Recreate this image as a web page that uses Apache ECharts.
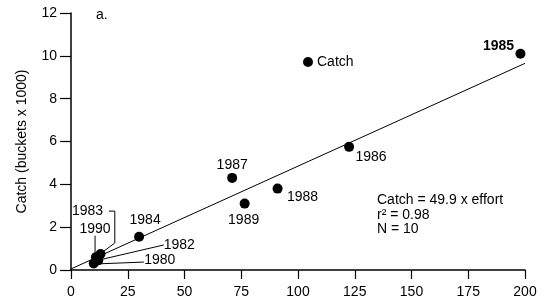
<!DOCTYPE html>
<html>
<head>
<meta charset="utf-8">
<script src="https://cdn.jsdelivr.net/npm/echarts@6/dist/echarts.min.js"></script>
<style>
html, body { margin: 0; padding: 0; background: #fff; }
#chart { width: 549px; height: 307px; }
</style>
</head>
<body>
<div id="chart"></div>
<script>
// data
const years  = [1980, 1982, 1983, 1984, 1985, 1986, 1987, 1988, 1989, 1990];
const effort = [10, 12, 13, 30, 198, 122.5, 71, 91, 76.5, 11];
const catchK = [0.3, 0.45, 0.75, 1.55, 10.1, 5.75, 4.3, 3.8, 3.1, 0.6];
const fitLine = [[0, 0.05], [200, 9.65]];
const xTicks = [0, 25, 50, 75, 100, 125, 150, 175, 200];
const yTicks = [0, 2, 4, 6, 8, 10, 12];

// leader lines for the crowded labels near the origin
const leaders = [
    [[16.7, 2.75], [19.3, 2.75], [19.3, 1.26], [13.2, 0.78]],
    [[10.6, 1.6], [10.6, 0.68]],
    [[40.9, 1.17], [12.5, 0.47]],
    [[32.1, 0.37], [10.3, 0.28]]
];

// label offsets (px) relative to each dot
const labelOffset = {
    1980: [66, -3], 1982: [81, -15], 1983: [-13, -43], 1984: [6, -17],
    1985: [-22, -8], 1986: [22, 10], 1987: [0, -13], 1988: [25, 9],
    1989: [-1, 17], 1990: [-1, -28]
};

let myChart = echarts.init(document.getElementById('chart'));

let points = [];
for (let i = 0; i < years.length; i++) {
    points.push({
        value: [effort[i], catchK[i]],
        name: String(years[i]),
        label: {
            offset: labelOffset[years[i]],
            fontWeight: years[i] === 1985 ? 'bold' : 'normal'
        }
    });
}

const font = 'Liberation Sans, Arial, Helvetica, sans-serif';

let series = [{
    type: 'line',
    data: fitLine,
    symbol: 'none',
    silent: true,
    lineStyle: { color: '#000', width: 1 },
    z: 2
}];
leaders.forEach(function (d) {
    series.push({
        type: 'line',
        data: d,
        symbol: 'none',
        silent: true,
        lineStyle: { color: '#000', width: 1 },
        z: 2
    });
});
series.push({
    name: 'Catch',
    type: 'scatter',
    data: points,
    symbol: 'circle',
    symbolSize: 10,
    itemStyle: { color: '#000', opacity: 1 },
    label: {
        show: true,
        position: 'inside',
        formatter: function (p) { return p.name; },
        color: '#000',
        fontSize: 14,
        fontFamily: font,
        align: 'center',
        verticalAlign: 'middle'
    },
    z: 3
});

let option = {
    animation: false,
    backgroundColor: '#fff',
    grid: { left: 71, right: 24, top: 13, bottom: 37, containLabel: false },
    legend: {
        data: ['Catch'],
        left: 298,
        top: 50,
        icon: 'circle',
        itemWidth: 10,
        itemHeight: 10,
        itemGap: 4,
        textStyle: { color: '#000', fontSize: 14, fontFamily: font, padding: [0, 0, 0, -1] }
    },
    graphic: [
        { type: 'text', left: 96, top: 8, style: { text: 'a.', fontSize: 14, fontFamily: font, fill: '#000' } },
        { type: 'text', left: 377, top: 193, style: {
            text: 'Catch = 49.9 x effort\nr\u00b2 = 0.98\nN = 10',
            fontSize: 14, lineHeight: 14.5, fontFamily: font, fill: '#000' } }
    ],
    xAxis: {
        type: 'value',
        min: 0,
        max: 200,
        interval: 25,
        axisLine: { show: true, onZero: false, lineStyle: { color: '#000', width: 1.5 } },
        axisTick: { show: true, length: 9, lineStyle: { color: '#000', width: 1.2 } },
        axisLabel: { color: '#000', fontSize: 14, fontFamily: font, margin: 15,
            formatter: function (v) { return xTicks.indexOf(v) >= 0 ? String(v) : ''; } },
        splitLine: { show: false }
    },
    yAxis: {
        type: 'value',
        min: 0,
        max: 12,
        interval: 2,
        name: 'Catch (buckets x 1000)',
        nameLocation: 'middle',
        nameGap: 42,
        nameTextStyle: { color: '#000', fontSize: 14, fontFamily: font },
        axisLine: { show: true, onZero: false, lineStyle: { color: '#000', width: 1.5 } },
        axisTick: { show: true, length: 11, lineStyle: { color: '#000', width: 1.2 } },
        axisLabel: { color: '#000', fontSize: 14, fontFamily: font, margin: 14,
            formatter: function (v) { return yTicks.indexOf(v) >= 0 ? String(v) : ''; } },
        splitLine: { show: false }
    },
    series: series
};

myChart.setOption(option);
window.addEventListener('resize', function () { myChart.resize(); });
</script>
</body>
</html>
